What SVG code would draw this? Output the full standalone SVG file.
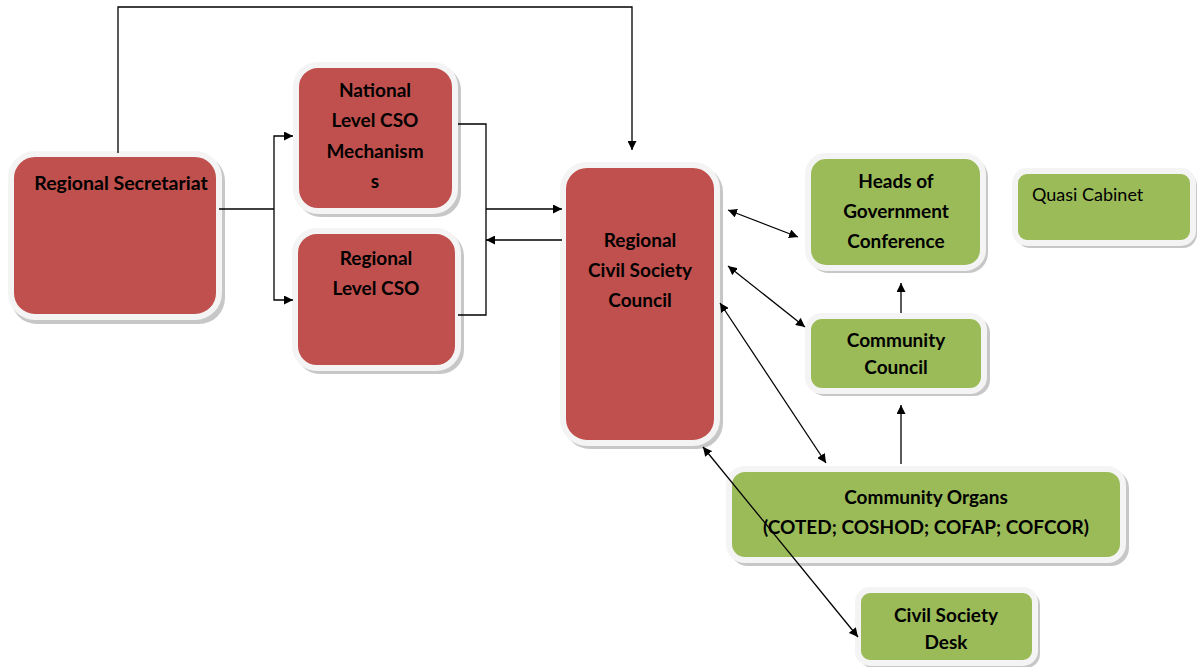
<svg xmlns="http://www.w3.org/2000/svg" width="1197" height="667" viewBox="0 0 1197 667">
<style>
.sh{fill:#b9b9b9;opacity:0.8}
.red{fill:#c0504d;stroke:#f4f4f4;stroke-width:6}
.grn{fill:#9bbb59;stroke:#f4f4f4;stroke-width:6}
.t{font-family:Lato,"Open Sans",sans-serif;font-weight:bold;font-size:19px;fill:#000;text-anchor:middle}
.n{font-family:Lato,"Open Sans",sans-serif;font-size:18px;fill:#000}
.c{fill:none;stroke:#000;stroke-width:1.3}
</style>
<defs>
<marker id="a" viewBox="0 0 10 10" refX="10" refY="5" markerWidth="9" markerHeight="9" markerUnits="userSpaceOnUse" orient="auto-start-reverse"><path d="M0,0 L10,5 L0,10 z" fill="#000"/></marker>
</defs>
<g id="regional-secretariat">
<rect class="sh" x="11" y="155" width="214" height="169" rx="26"/>
<rect class="red" x="11" y="154" width="208" height="163" rx="24"/>
<text class="t" x="121" y="190" style="font-size:19.5px">Regional Secretariat</text>
</g>
<g id="national-level-cso">
<rect class="sh" x="297" y="66" width="164" height="151" rx="24"/>
<rect class="red" x="296" y="65" width="159" height="146" rx="22"/>
<text class="t" x="375" y="97">National</text>
<text class="t" x="375" y="127">Level CSO</text>
<text class="t" x="375" y="158">Mechanism</text>
<text class="t" x="375" y="188">s</text>
</g>
<g id="regional-level-cso">
<rect class="sh" x="296" y="232" width="168" height="142" rx="24"/>
<rect class="red" x="295" y="231" width="163" height="137" rx="22"/>
<text class="t" x="376" y="265">Regional</text>
<text class="t" x="376" y="295">Level CSO</text>
</g>
<g id="regional-civil-society-council">
<rect class="sh" x="564" y="166" width="159" height="283" rx="26"/>
<rect class="red" x="563" y="165" width="154" height="278" rx="24"/>
<text class="t" x="640" y="247">Regional</text>
<text class="t" x="640" y="277">Civil Society</text>
<text class="t" x="640" y="307">Council</text>
</g>
<g id="heads-of-government">
<rect class="sh" x="809" y="157" width="179" height="116" rx="20"/>
<rect class="grn" x="808" y="156" width="175" height="112" rx="18"/>
<text class="t" x="896" y="188">Heads of</text>
<text class="t" x="896" y="218">Government</text>
<text class="t" x="896" y="248">Conference</text>
</g>
<g id="quasi-cabinet">
<rect class="sh" x="1016" y="172" width="181" height="76" rx="14"/>
<rect class="grn" x="1015" y="171" width="178" height="72" rx="12"/>
<text class="n" x="1032" y="201">Quasi Cabinet</text>
</g>
<g id="community-council">
<rect class="sh" x="809" y="317" width="181" height="79" rx="16"/>
<rect class="grn" x="808" y="316" width="176" height="75" rx="14"/>
<text class="t" x="896" y="347">Community</text>
<text class="t" x="896" y="374">Council</text>
</g>
<g id="community-organs">
<rect class="sh" x="730" y="470" width="399" height="96" rx="18"/>
<rect class="grn" x="729" y="469" width="394" height="91" rx="16"/>
<text class="t" x="926" y="504">Community Organs</text>
<text class="t" x="926" y="534">(COTED; COSHOD; COFAP; COFCOR)</text>
</g>
<g id="civil-society-desk">
<rect class="sh" x="859" y="591" width="181" height="77" rx="14"/>
<rect class="grn" x="858" y="590" width="177" height="73" rx="12"/>
<text class="t" x="946" y="622">Civil Society</text>
<text class="t" x="946" y="649">Desk</text>
</g>
<g id="connectors">
<path class="c" d="M118,153 V7 H632 V150" marker-end="url(#a)"/>
<path class="c" d="M219,209 H274"/>
<path class="c" d="M274,209 V136 H293" marker-end="url(#a)"/>
<path class="c" d="M274,209 V300 H293" marker-end="url(#a)"/>
<path class="c" d="M458,124 H486 V315 H458"/>
<path class="c" d="M486,209 H562" marker-end="url(#a)"/>
<path class="c" d="M562,240 H486" marker-end="url(#a)"/>
<path class="c" d="M728,210 L798,237" marker-start="url(#a)" marker-end="url(#a)"/>
<path class="c" d="M728,266 L805,327" marker-start="url(#a)" marker-end="url(#a)"/>
<path class="c" d="M720,303 L826,463" marker-start="url(#a)" marker-end="url(#a)"/>
<path class="c" d="M703,447 L858,637" marker-start="url(#a)" marker-end="url(#a)"/>
<path class="c" d="M901,313 V283" marker-end="url(#a)"/>
<path class="c" d="M901,464 V405" marker-end="url(#a)"/>
</g>
</svg>
